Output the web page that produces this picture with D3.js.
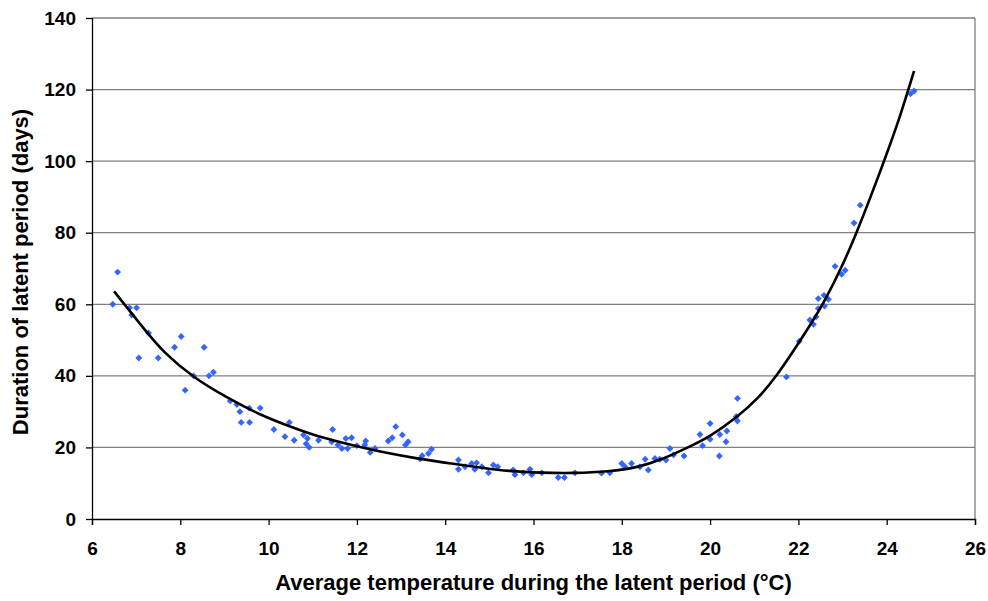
<!DOCTYPE html>
<html>
<head>
<meta charset="utf-8">
<script src="https://cdn.jsdelivr.net/npm/d3@7"></script>
<style>
  html, body { margin: 0; padding: 0; background: #fff; }
  text { font-family: "Liberation Sans", Arial, sans-serif; font-weight: bold; fill: #000; }
</style>
</head>
<body>
<svg id="chart" width="988" height="601"></svg>
<script>
// Observed data (temperature °C, latent period days)
const temperature = [
  6.58, 6.47, 6.85, 7.01, 6.9, 7.28, 7.06, 7.5, 8.02, 7.87, 8.54, 8.11, 8.30, 8.65, 8.75,
  9.13, 9.28, 9.35, 9.56, 9.81, 9.38, 9.57, 10.12, 10.47, 10.37, 10.58,
  10.79, 10.88, 10.85, 10.92, 11.13, 11.45, 11.43, 11.57, 11.66, 11.75, 11.79, 11.88, 12.0,
  12.2, 12.18, 12.30, 12.41, 12.71, 12.80, 12.88, 13.03, 13.16, 13.1, 13.43, 13.48, 13.62, 13.69,
  14.30, 14.30, 14.45, 14.60, 14.67, 14.83, 14.71, 14.98, 15.09, 15.19, 15.54, 15.58, 15.77,
  15.92, 15.96, 16.19, 16.56, 16.70, 16.94, 17.54, 17.73, 18.0, 18.07, 18.22, 18.41, 18.53,
  18.60, 18.75, 18.86, 19.09, 19.17, 19.0, 19.41, 19.77, 19.83, 20.0, 20.0, 20.21, 20.22,
  20.38, 20.36, 20.62, 20.59, 20.62, 21.73, 22.02, 22.26, 22.34, 22.40, 22.45, 22.45, 22.58,
  22.59, 22.68, 22.83, 22.98, 23.06, 23.26, 23.40, 24.54, 24.62
];
const duration = [
  69, 60, 59, 59, 57, 52, 45, 45, 51, 48, 48, 36, 40, 40, 41,
  33, 32, 30, 31, 31, 27, 27, 25, 27, 23, 22,
  23.5, 22.5, 21, 20, 22, 25, 21.6, 20.7, 19.7, 22.5, 19.7, 22.7, 20.5,
  21.8, 20.7, 18.6, 19.7, 21.8, 22.7, 25.8, 23.5, 21.6, 20.7, 16.8, 17.7, 18.3, 19.5,
  16.5, 13.9, 14.6, 15.5, 13.9, 14.6, 15.7, 12.9, 15.1, 14.6, 13.7, 12.4, 12.9,
  13.9, 12.4, 12.9, 11.6, 11.6, 12.9, 12.8, 12.9, 15.5, 14.6, 15.5, 14.6, 16.7,
  13.7, 16.9, 16.7, 19.7, 17.9, 16.5, 17.6, 23.6, 20.5, 26.7, 22.3, 17.6, 23.6,
  24.6, 21.6, 33.7, 28.6, 27.4, 39.7, 49.7, 55.6, 54.4, 56.5, 61.6, 58.8, 62.5,
  59.5, 61.4, 70.6, 68.4, 69.5, 82.7, 87.7, 118.8, 119.6
];
// Trend curve
const trendTemp = [6.5, 6.8, 7.2, 7.6, 8.3, 9.1, 9.8, 10.6, 11.1, 11.9, 12.6, 13.4, 14.2, 14.9, 15.4,
  16.2, 16.9, 17.7, 18.4, 18.9, 19.43, 20.0, 20.6, 21.1, 21.5, 21.9, 22.3, 22.6, 23.0, 23.3, 23.6,
  24.0, 24.3, 24.62];
const trendDays = [63.6, 59, 52.8, 46.8, 39.4, 33.6, 29.1, 25.3, 23.1, 20.6, 18.6, 16.8, 15.4, 14.2, 13.4,
  12.9, 12.8, 13.2, 14.5, 16.6, 19.6, 23.0, 28.3, 33.8, 39.9, 47.2, 54.8, 61.0, 70.8, 79.5, 88.8,
  102.0, 112.3, 125.2];
const xTicks = [6, 8, 10, 12, 14, 16, 18, 20, 22, 24, 26];
const yTicks = [0, 20, 40, 60, 80, 100, 120, 140];
const xTitle = "Average temperature during the latent period (°C)";
const yTitle = "Duration of latent period (days)";

const svg = d3.select("#chart");
const m = { left: 92, top: 18, right: 975, bottom: 519 };
const x = d3.scaleLinear().domain([6, 26]).range([m.left, m.right]);
const y = d3.scaleLinear().domain([0, 140]).range([m.bottom, m.top]);

// gridlines
svg.append("g").selectAll("line").data(yTicks.filter(d => d > 0)).join("line")
  .attr("x1", m.left).attr("x2", m.right)
  .attr("y1", d => y(d)).attr("y2", d => y(d))
  .attr("stroke", "#7f7f7f").attr("stroke-width", 1.3);
// right border
svg.append("line").attr("x1", m.right).attr("x2", m.right).attr("y1", m.top).attr("y2", m.bottom)
  .attr("stroke", "#7f7f7f").attr("stroke-width", 1.3);

// axes
const xAxis = svg.append("g").attr("transform", `translate(0,${m.bottom})`)
  .call(d3.axisBottom(x).tickValues(xTicks).tickSize(6).tickPadding(17).tickFormat(d3.format("d")));
const yAxis = svg.append("g").attr("transform", `translate(${m.left},0)`)
  .call(d3.axisLeft(y).tickValues(yTicks).tickSize(6).tickPadding(10).tickFormat(d3.format("d")));
[xAxis, yAxis].forEach(g => {
  g.select(".domain").attr("stroke", "#000").attr("stroke-width", 1.3);
  g.selectAll(".tick line").attr("stroke", "#000").attr("stroke-width", 1.3);
  g.selectAll(".tick text").attr("font-size", 19).attr("font-family", "Liberation Sans, Arial, sans-serif")
    .attr("font-weight", "bold").attr("fill", "#000");
});
yAxis.select(".domain").attr("d", `M0.5,${m.top}V${m.bottom}`);

// points
const pts = temperature.map((t, i) => [t, duration[i]]);
svg.append("g").selectAll("path").data(pts).join("path")
  .attr("d", d3.symbol().type(d3.symbolDiamond2).size(30))
  .attr("transform", d => `translate(${x(d[0])},${y(d[1])})`)
  .attr("fill", "#3366ff");

// trend curve
const trend = trendTemp.map((t, i) => [t, trendDays[i]]);
svg.append("path").datum(trend)
  .attr("d", d3.line().x(d => x(d[0])).y(d => y(d[1])).curve(d3.curveBasis))
  .attr("fill", "none").attr("stroke", "#000").attr("stroke-width", 2.6);

// titles
svg.append("text").attr("x", (m.left + m.right) / 2 + 0).attr("y", 590)
  .attr("text-anchor", "middle").attr("font-size", 22).text(xTitle);
svg.append("text").attr("transform", "translate(28,272) rotate(-90)")
  .attr("text-anchor", "middle").attr("font-size", 22).text(yTitle);
</script>
</body>
</html>
